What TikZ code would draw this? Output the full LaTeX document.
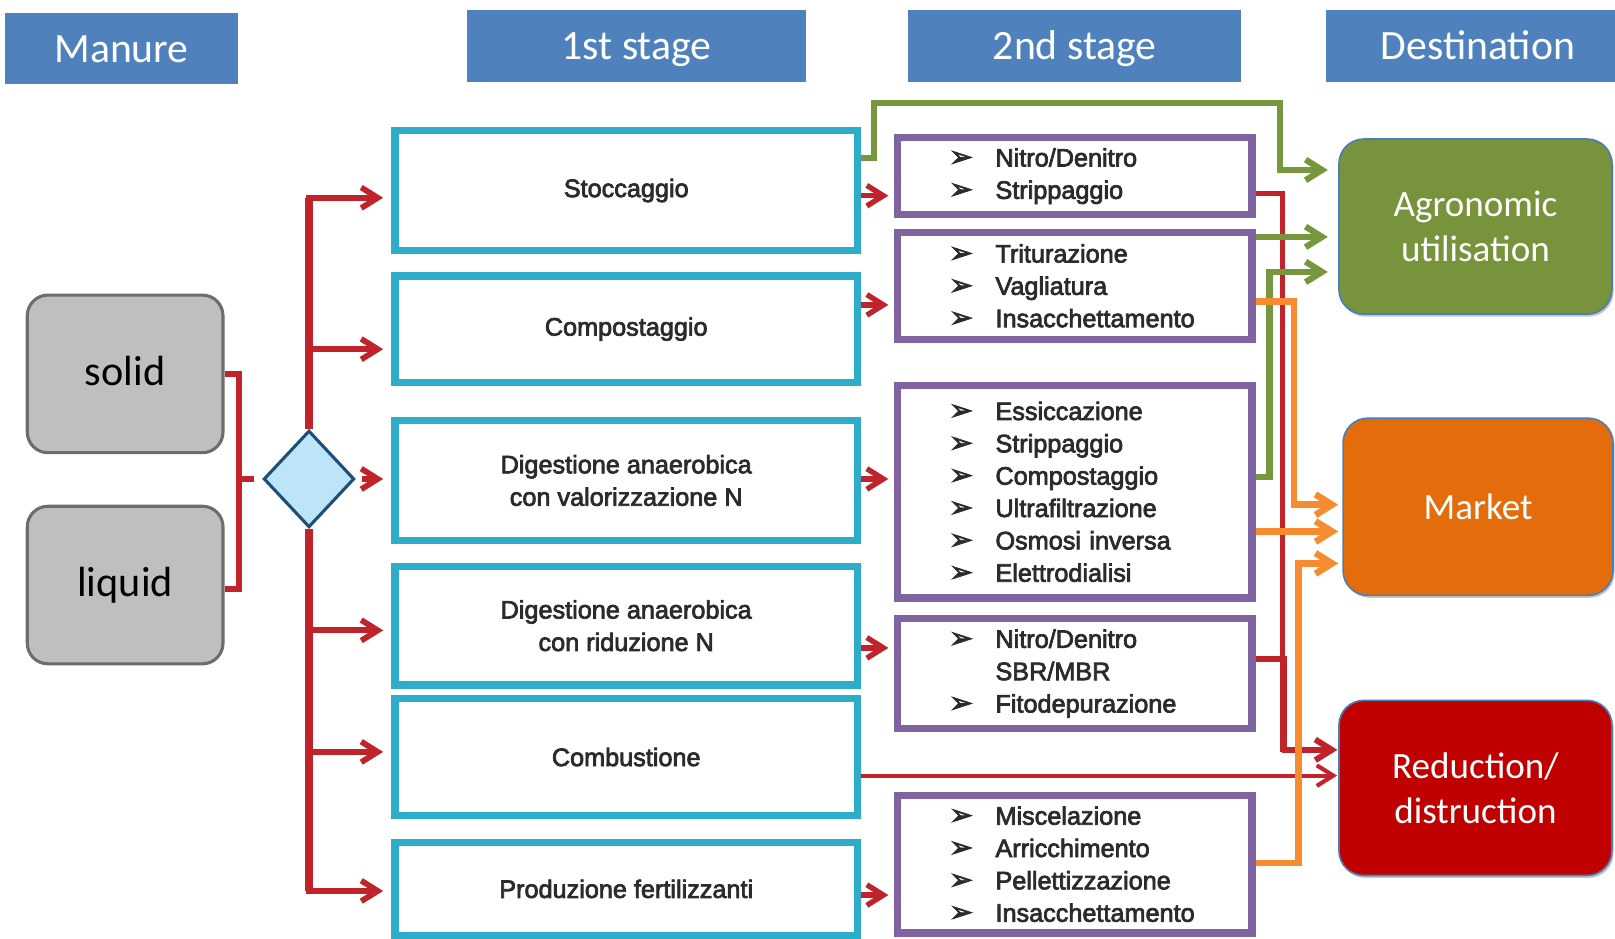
\documentclass[tikz,border=0pt]{standalone}
\usepackage{fontspec}
\setmainfont{Carlito}
\newfontfamily\boxfont{Liberation Sans}
\newfontfamily\symfont{DejaVu Sans}
\usetikzlibrary{arrows.meta,shapes.geometric,calc,backgrounds,shadows}
\definecolor{hdrblue}{HTML}{4F81BD}
\definecolor{grayline}{HTML}{6D6D6D}
\definecolor{grayfill}{HTML}{BFBFC1}
\definecolor{cyanC}{HTML}{2EADCA}
\definecolor{purpleC}{HTML}{8064A2}
\definecolor{textC}{HTML}{2B2B2B}
\definecolor{redC}{HTML}{C1232B}
\definecolor{greenC}{HTML}{77973F}
\definecolor{orangeC}{HTML}{F68B2F}
\definecolor{dstline}{HTML}{4A7EBB}
\definecolor{agroF}{HTML}{77933C}
\definecolor{marketF}{HTML}{E46C0A}
\definecolor{reduF}{HTML}{C00000}
\definecolor{diaFill}{HTML}{BDE5F8}
\definecolor{diaLine}{HTML}{1F4E79}
\newcommand{\bulitem}{\makebox[22.5pt][l]{\symfont\fontsize{14pt}{14pt}\selectfont ➢}}
\newcommand{\nobulitem}{\hspace*{22.5pt}}
\newcommand{\heavyon}{\special{pdf:literal direct 2 Tr 0.35 w}}
\newcommand{\heavyoff}{\special{pdf:literal direct 0 Tr}}
\begin{document}
\begin{tikzpicture}[x=0.5pt,y=-0.5pt,
  hdr/.style={fill=hdrblue,text=white,inner sep=0pt,text height=13pt,text depth=0pt,font=\fontsize{20.25pt}{24pt}\selectfont},
  grayb/.style={draw=grayline,fill=grayfill,line width=1.5pt,rounded corners=10pt,minimum width=95pt,minimum height=76.5pt,inner sep=0pt,font=\fontsize{20.5pt}{24pt}\selectfont},
  heavytext/.style={execute at begin node={\heavyon},execute at end node={\heavyoff}},
  stA/.style={draw=cyanC,line width=3.5pt,fill=white,minimum width=224.5pt,inner sep=0pt,align=center,text=textC,font=\boxfont\fontsize{12.25pt}{15.75pt}\selectfont,heavytext},
  stB/.style={draw=purpleC,line width=3.5pt,fill=white,text width=122pt,inner xsep=25pt,inner ysep=0pt,align=left,text=textC,font=\boxfont\fontsize{12.25pt}{15.7pt}\selectfont,heavytext},
  dst/.style={draw=dstline,line width=0.8pt,rounded corners=12pt,text=white,align=center,inner sep=0pt,font=\fontsize{18pt}{22pt}\selectfont,drop shadow={shadow xshift=0.8pt,shadow yshift=-1.2pt,opacity=0.45}},
  redline/.style={draw=redC,line width=2.8pt},
  trunk/.style={draw=redC,line width=3.8pt},
  redarr/.style={draw=redC,line width=2.8pt,-{Straight Barb[length=8pt,width=10pt]},shorten >=4pt},
  redarrB/.style={draw=redC,line width=2.6pt,-{Straight Barb[length=8pt,width=10pt]},shorten >=2.75pt},
  redarrC/.style={draw=redC,line width=2.4pt,-{Straight Barb[length=8pt,width=10pt]},shorten >=0.5pt},
  grnarr/.style={draw=greenC,line width=3pt,-{Straight Barb[length=8pt,width=10pt]},shorten >=5pt},
  orgarr/.style={draw=orangeC,line width=3.2pt,-{Straight Barb[length=8pt,width=10pt]},shorten >=2pt}
]
\useasboundingbox (0,0) rectangle (1568,911);
\clip (0,0) rectangle (1568,911);

% headers
\node[hdr,minimum width=113pt,minimum height=34.5pt] (hman) at (118,47.5) {Manure};
\node[hdr,minimum width=165pt,minimum height=35pt] (hone) at (618,45) {1st stage};
\node[hdr,minimum width=161.5pt,minimum height=35pt] (htwo) at (1043.5,45) {2nd stage};
\node[hdr,minimum width=148pt,minimum height=35pt] (hdst) at (1435,45) {Destination};

% manure types
\node[grayb] (solid) at (121.5,363) {\raisebox{3pt}{solid}};
\node[grayb] (liquid) at (121.5,568) {liquid};

% decision diamond
\node[diamond,draw=diaLine,fill=diaFill,line width=1.5pt,minimum width=44pt,minimum height=47pt,inner sep=0pt] (dia) at (300,465) {};

% first stage
\node[stA,minimum height=58pt] (stocc) at (608,185) {Stoccaggio};
\node[stA,minimum height=51.5pt] (comp) at (608,319.5) {Compostaggio};
\node[stA,minimum height=58.5pt] (dval) at (608,466.5) {Digestione anaerobica\\con valorizzazione N};
\node[stA,minimum height=57.5pt] (drid) at (608,607.5) {Digestione anaerobica\\con riduzione N};
\node[stA,minimum height=57pt] (comb) at (608,735) {Combustione};
\node[stA,minimum height=45pt] (prod) at (608,863) {Produzione fertilizzanti};

% second stage
\node[stB,minimum height=37.5pt] (A) at (1043.5,171) {\bulitem Nitro/Denitro\\\bulitem Strippaggio};
\node[stB,minimum height=52pt] (B) at (1043.5,277.5) {\bulitem Triturazione\\\bulitem Vagliatura\\\bulitem Insacchettamento};
\node[stB,minimum height=103pt] (C) at (1043.5,477.5) {\bulitem Essiccazione\\\bulitem Strippaggio\\\bulitem Compostaggio\\\bulitem Ultrafiltrazione\\\bulitem Osmosi inversa\\\bulitem Elettrodialisi};
\node[stB,minimum height=53.5pt] (D) at (1043.5,654) {\bulitem Nitro/Denitro\\\nobulitem SBR/MBR\\\bulitem Fitodepurazione};
\node[stB,minimum height=66.75pt] (E) at (1043.5,839) {\bulitem Miscelazione\\\bulitem Arricchimento\\\bulitem Pellettizzazione\\\bulitem Insacchettamento};

% destinations
\node[dst,fill=agroF,minimum width=132.5pt,minimum height=85pt] (agro) at (1432.5,220) {Agronomic\\utilisation};
\node[dst,fill=marketF,minimum width=131pt,minimum height=86pt] (market) at (1435,492) {Market};
\node[dst,fill=reduF,minimum width=132.5pt,minimum height=85pt] (redu) at (1432.5,765) {Reduction/\\distruction};

\begin{scope}[on background layer]
\fill[white] (0,0) rectangle (1568,911);
% bracket solid/liquid -> diamond
\draw[redline] (solid.east) -- ++(14,0) coordinate (brk) |- ($(liquid.east)+(0,4)$);
\draw[redline,shorten >=4pt] (brk |- dia.west) -- (dia.west);
% trunk and branches
\coordinate (ya) at ($(stocc.west)+(0,7)$);
\coordinate (yb) at ($(comp.west)+(0,19.5)$);
\coordinate (yd) at ($(drid.west)+(0,4.5)$);
\coordinate (ye) at ($(comb.west)+(0,-5)$);
\coordinate (yf) at ($(prod.west)+(0,2)$);
\draw[trunk] (dia.north) -- (dia.north |- ya);
\draw[trunk] (dia.south) -- (dia.south |- yf);
\draw[redarr] (dia.north) |- (ya);
\draw[redarr] (dia.north) |- (yb);
\draw[redarr,shorten <=3pt] (dia.east) -- (dia.east -| dval.west);
\draw[redarr] (dia.south) |- (yd);
\draw[redarr] (dia.south) |- (ye);
\draw[redarr] (dia.south) |- (yf);
% first -> second stage
\draw[redarrB] ($(stocc.east)+(0,5)$) -- ($(A.west)+(0,19)$);
\draw[redarrB] ($(comp.east)+(0,-23.5)$) -- ($(B.west)+(0,18.5)$);
\draw[redarrB] ($(dval.east)+(0,-1.5)$) -- ($(C.west)+(0,-12.5)$);
\draw[redarrB] ($(drid.east)+(0,21.5)$) -- ($(D.west)+(0,-25)$);
\draw[redarrB] ($(prod.east)+(0,6)$) -- ($(E.west)+(0,30)$);
% to reduction
\draw[redarrC] ($(A.east)+(0,17)$) -- ++(26.5,0) |- ($(redu.west)+(0,-37)$);
\draw[redarrC,line width=2.8pt] ($(D.east)+(0,-14)$) -- ++(28,0) |- ($(redu.west)+(0,-37)$);
\draw[redarrC,line width=2pt] ($(comb.east)+(0,18)$) -- ($(redu.west)+(0,-12)$);
% to agronomic utilisation
\draw[grnarr] ($(stocc.east)+(0,-32)$) -- ++(12.5,0) |- (1243,100) |- ($(agro.west)+(0,-55)$);
\draw[grnarr] ($(B.east)+(0,-47.5)$) -- ($(agro.west)+(0,10)$);
\draw[grnarr] ($(C.east)+(0,-14.5)$) -- ++(13.5,0) |- ($(agro.west)+(0,44)$);
% to market
\draw[orgarr] ($(B.east)+(0,15.5)$) -- ++(37.5,0) |- ($(market.west)+(0,-2)$);
\draw[orgarr] ($(C.east)+(0,38.5)$) -- ($(market.west)+(0,24)$);
\draw[orgarr] ($(E.east)+(0,-1)$) -- ++(41.5,0) |- ($(market.west)+(0,55)$);
\end{scope}
\end{tikzpicture}
\end{document}
